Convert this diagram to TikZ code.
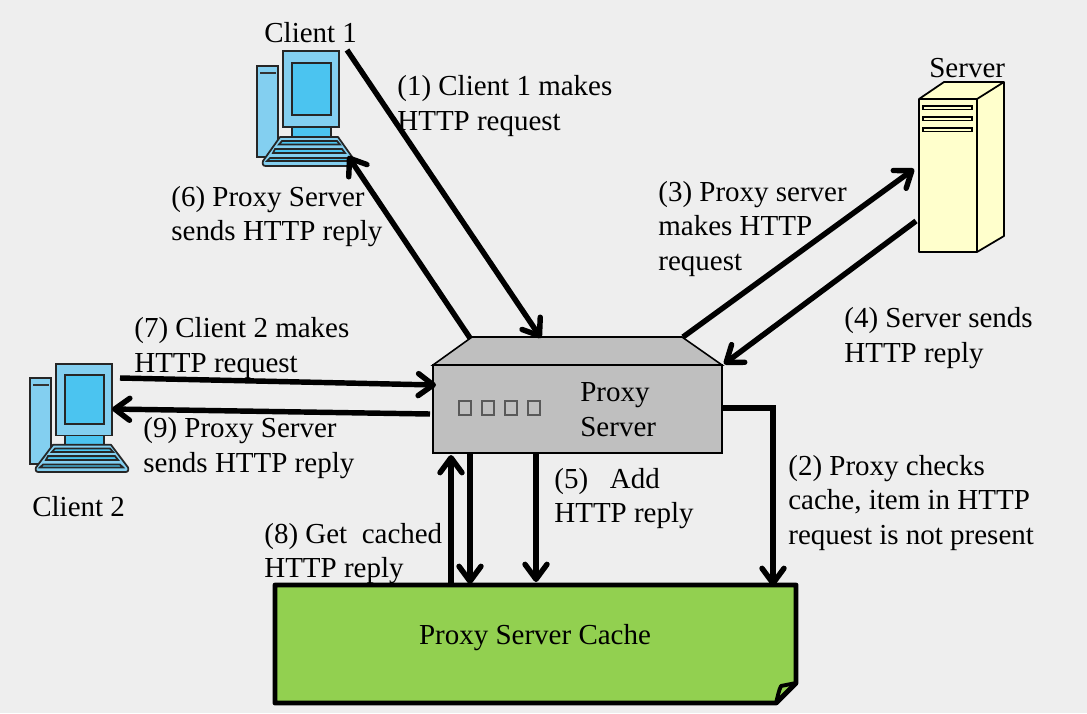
\documentclass[tikz,border=0pt]{standalone}
\usepackage{fontspec}
\setmainfont{Liberation Serif}
\usetikzlibrary{arrows.meta}
\definecolor{bgrey}{HTML}{EEEEEE}
\definecolor{boxgrey}{HTML}{BFBFBF}
\definecolor{ledgrey}{HTML}{595959}
\definecolor{pale}{HTML}{FFFFCC}
\definecolor{cachegreen}{HTML}{92D050}
\definecolor{pcblue}{HTML}{83CFF0}
\definecolor{scrblue}{HTML}{4BC4F0}
\tikzset{
  lbl/.style={anchor=west,align=left,inner sep=0pt,font=\fontsize{16.5}{19.84}\selectfont},
  msg/.style={line width=3.1pt,-{Straight Barb[round,length=8.5pt,width=12.5pt,line width=3.1pt]}},
  pcline/.style={draw=black!85,line width=1pt},
  computer/.pic={
    \draw[pcline,fill=pcblue] (0,15) rectangle (21,106);
    \draw[line width=1.1pt,draw=black!80] (3,22) -- (19,22);
    \draw[pcline,fill=scrblue] (35,76) rectangle (74,87);
    \draw[pcline,fill=pcblue] (26,0) rectangle (82,76);
    \draw[pcline,fill=scrblue] (35,12) rectangle (74,64);
    \draw[pcline,fill=pcblue,line join=round] (23,86) -- (81,86) -- (98,110) .. controls (99,113) and (98,115) .. (95,115) -- (9,115) .. controls (6,115) and (5,113) .. (6,110) -- cycle;
    \draw[pcline,fill=scrblue] (25,90) -- (80,90) -- (83,93.5) -- (22,93.5) -- cycle;
    \draw[pcline,fill=scrblue] (18,98) -- (85,98) -- (88,102) -- (16,102) -- cycle;
    \draw[pcline,fill=scrblue] (13,107) -- (90,107) -- (93,110) -- (10,110) -- cycle;
  }
}
\begin{document}
\begin{tikzpicture}[x=0.02cm,y=-0.02cm]
\fill[bgrey] (0,0) rectangle (1087,713);
\useasboundingbox (0,0) rectangle (1087,713);

% clients
\pic at (257,51) {computer};
\pic[yscale=0.94] at (30,364) {computer};

% server
\filldraw[fill=pale,line width=1pt,line join=round] (919,99) -- (944,82) -- (1004,82) -- (1004,236) -- (977,252) -- (919,252) -- cycle;
\draw[line width=1pt] (919,99) -- (977,99) -- (1004,82);
\draw[line width=1pt] (977,99) -- (977,252);
\foreach \y in {106,117,128}
  \draw[line width=1pt] (923,\y) rectangle (972,\y+3.5);

% proxy server
\filldraw[fill=boxgrey,line width=0.9pt] (433,365) -- (472,337) -- (682,337) -- (722,365) -- cycle;
\filldraw[fill=boxgrey,line width=0.9pt] (433,365) rectangle (722,453);
\foreach \x in {459,482,505,528}
  \draw[ledgrey,line width=1pt] (\x,401) rectangle ++(12,14);

% cache
\filldraw[fill=cachegreen,line width=2.8pt,line join=round] (275,585) -- (796,585) -- (796,683) -- (776,703) -- (275,703) -- cycle;
\draw[line width=2.2pt,line join=round] (776,703) .. controls (778,695) and (779,690) .. (781,686) .. controls (786,685) and (791,684) .. (796,683);

% end points of the arrows
\coordinate (cA) at (347,50);
\coordinate (cAin) at (348,156);
\coordinate (pxTop) at (541,338);
\coordinate (pxOut) at (470,338);
\coordinate (pxUp) at (683,337);
\coordinate (pxCorner) at (724,364);
\coordinate (svIn) at (914,169);
\coordinate (svOut) at (916,221);
\coordinate (cB) at (120,378);
\coordinate (cBin) at (112,409);
\coordinate (pxLeftIn) at (436,385);
\coordinate (pxLeftOut) at (430,414);
\coordinate (pxRight) at (723,408);
\coordinate (bend) at (773,408);
\coordinate (chkEnd) at (773,586);
\coordinate (addTop) at (536,453);
\coordinate (addEnd) at (536,582);
\coordinate (downTop) at (470,453);
\coordinate (downEnd) at (470,584);
\coordinate (getFrom) at (451,583);
\coordinate (getEnd) at (451,455);

\draw[msg] (cA) -- (pxTop);
\draw[msg] (pxOut) -- (cAin);
\draw[msg] (pxUp) -- (svIn);
\draw[msg] (svOut) -- (pxCorner);
\draw[msg] (cB) -- (pxLeftIn);
\draw[msg] (pxLeftOut) -- (cBin);
\draw[msg] (pxRight) -- (bend) -- (chkEnd);
\draw[msg] (addTop) -- (addEnd);
\draw[msg] (downTop) -- (downEnd);
\draw[msg] (getFrom) -- (getEnd);

% labels
\node[lbl] (clientA) at (264,33) {Client 1};
\node[lbl] (clientB) at (32,507) {Client 2};
\node[lbl] (server) at (929,68) {Server};
\node[lbl] (proxy) at (580,410) {Proxy\\Server};
\node[lbl,anchor=center] (cache) at (535,638) {Proxy Server Cache};
\node[lbl] (stepA) at (397,106) {(1) Client 1 makes\\HTTP request};
\node[lbl] (stepB) at (788,503) {(2) Proxy checks\\cache, item in HTTP\\request is not present};
\node[lbl] (stepC) at (658,229) {(3) Proxy server\\makes HTTP\\request};
\node[lbl] (stepD) at (844,338) {(4) Server sends\\HTTP reply};
\node[lbl] (stepE) at (554,498.5) {(5)\ \ \ Add\\HTTP reply};
\node[lbl] (stepF) at (171,216.5) {(6) Proxy Server\\sends HTTP reply};
\node[lbl] (stepG) at (134,348) {(7) Client 2 makes\\HTTP request};
\node[lbl] (stepH) at (264,553.5) {(8) Get\ \ cached\\HTTP reply};
\node[lbl] (stepI) at (143,448) {(9) Proxy Server\\sends HTTP reply};
\end{tikzpicture}
\end{document}
